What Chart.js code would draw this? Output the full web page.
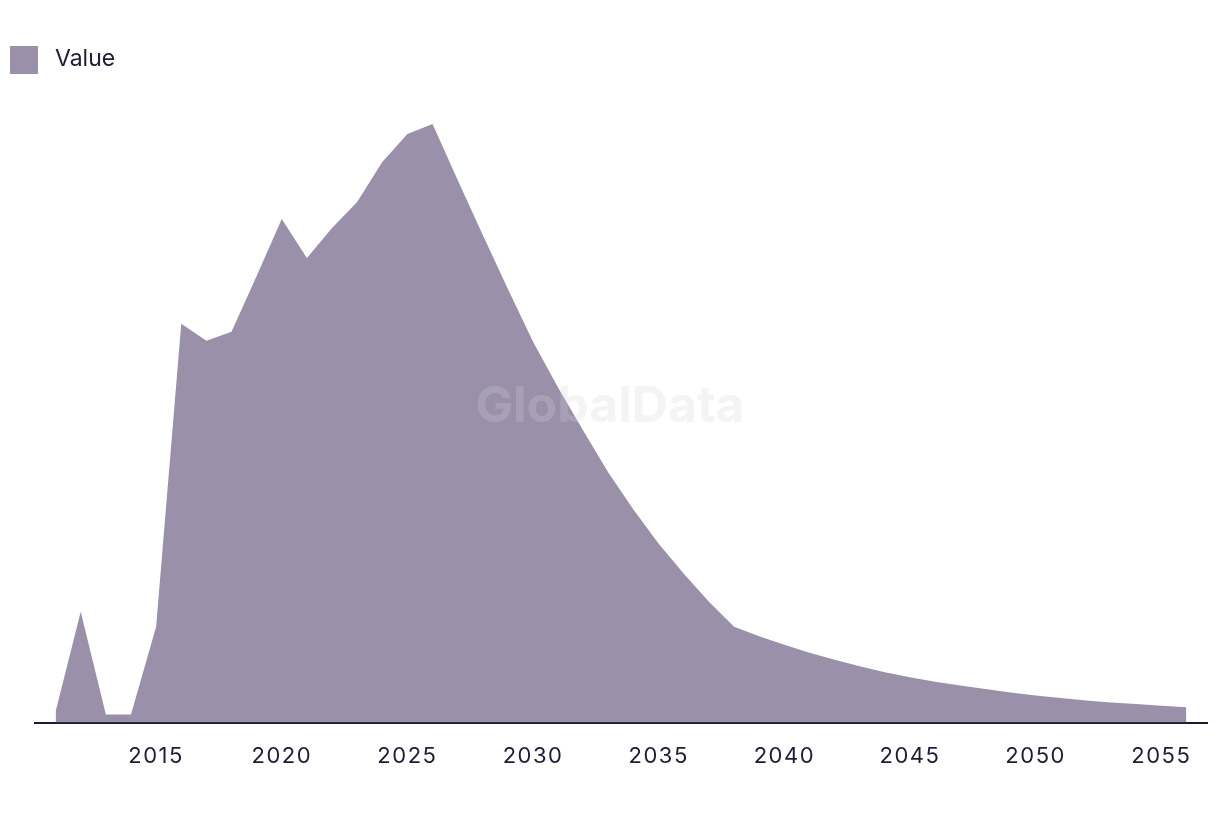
<!DOCTYPE html>
<html>
<head>
<meta charset="utf-8">
<script src="https://cdn.jsdelivr.net/npm/chart.js@4/dist/chart.umd.min.js"></script>
<style>
  body { margin: 0; background: #ffffff; }
  #wrap { position: relative; width: 1220px; height: 814px; }
  #legend {
    position: absolute; left: 10px; top: 46px; height: 28px;
    display: flex; align-items: center;
    font-family: Inter, "Noto Sans", sans-serif; font-size: 23px; color: #1d1d35;
  }
  #legend span.box { width: 28px; height: 28px; background: #9a90aa; margin-right: 17px; }
  #legend span.txt { position: relative; top: -2px; }
</style>
</head>
<body>
<div id="wrap">
  <canvas id="chart" width="1220" height="814"></canvas>
  <div id="legend"><span class="box"></span><span class="txt">Value</span></div>
</div>
<script>
  // Years on the x axis
  var years = [
    2011, 2012, 2013, 2014, 2015, 2016, 2017, 2018, 2019, 2020,
    2021, 2022, 2023, 2024, 2025, 2026, 2027, 2028, 2029, 2030,
    2031, 2032, 2033, 2034, 2035, 2036, 2037, 2038, 2039, 2040,
    2041, 2042, 2043, 2044, 2045, 2046, 2047, 2048, 2049, 2050,
    2051, 2052, 2053, 2054, 2055, 2056
  ];

  // Values
  var values = [
    1.1, 11.1, 0.8, 0.8, 9.6, 39.9, 38.2, 39.1, 44.7, 50.4,
    46.5, 49.5, 52.1, 56.1, 58.9, 59.9, 54.3, 48.8, 43.4, 38.1,
    33.5, 29.2, 25.0, 21.3, 17.9, 14.9, 12.1, 9.6, 8.65, 7.8,
    7.0, 6.3, 5.65, 5.05, 4.55, 4.1, 3.7, 3.35, 3.0, 2.7,
    2.45, 2.22, 2.02, 1.85, 1.68, 1.53
  ];

  // Labelled ticks
  var tickYears = [2015, 2020, 2025, 2030, 2035, 2040, 2045, 2050, 2055];

  var points = years.map(function (yr, i) {
    return { x: yr, y: values[i] };
  });

  // Tick letter spacing and the watermark
  var extras = {
    id: "extras",
    beforeDraw: function (chart) {
      chart.ctx.letterSpacing = "1.5px";
    },
    afterDatasetsDraw: function (chart) {
      var ctx = chart.ctx;
      ctx.save();
      ctx.letterSpacing = "0px";
      ctx.font = "bold 50px Inter, 'Liberation Sans', sans-serif";
      ctx.fillStyle = "rgba(210, 210, 216, 0.25)";
      ctx.textAlign = "center";
      ctx.textBaseline = "middle";
      ctx.fillText("GlobalData", 610, 407);
      ctx.restore();
      ctx.letterSpacing = "1.5px";
    },
  };

  new Chart(document.getElementById("chart"), {
    type: "line",
    data: {
      datasets: [
        {
          label: "Value",
          data: points,
          fill: "origin",
          backgroundColor: "#9a90aa",
          borderWidth: 0,
          pointRadius: 0,
          tension: 0,
        },
      ],
    },
    options: {
      responsive: false,
      animation: false,
      layout: { padding: { left: 35, right: 13, top: 100, bottom: 23 } },
      plugins: {
        legend: { display: false },
        tooltip: { enabled: false },
      },
      scales: {
        x: {
          type: "linear",
          min: 2010.18,
          max: 2056.82,
          afterBuildTicks: function (axis) {
            axis.ticks = tickYears.map(function (v) { return { value: v }; });
          },
          grid: { display: false, drawTicks: false },
          border: { display: true, color: "#1b1b33", width: 2 },
          ticks: {
            padding: 21,
            color: "#1d1d35",
            autoSkip: false,
            maxRotation: 0,
            font: { family: "Inter, 'Noto Sans', sans-serif", size: 22 },
            callback: function (v) { return String(v); },
          },
        },
        y: {
          display: false,
          min: 0,
          max: 62.3,
        },
      },
    },
    plugins: [extras],
  });
</script>
</body>
</html>
